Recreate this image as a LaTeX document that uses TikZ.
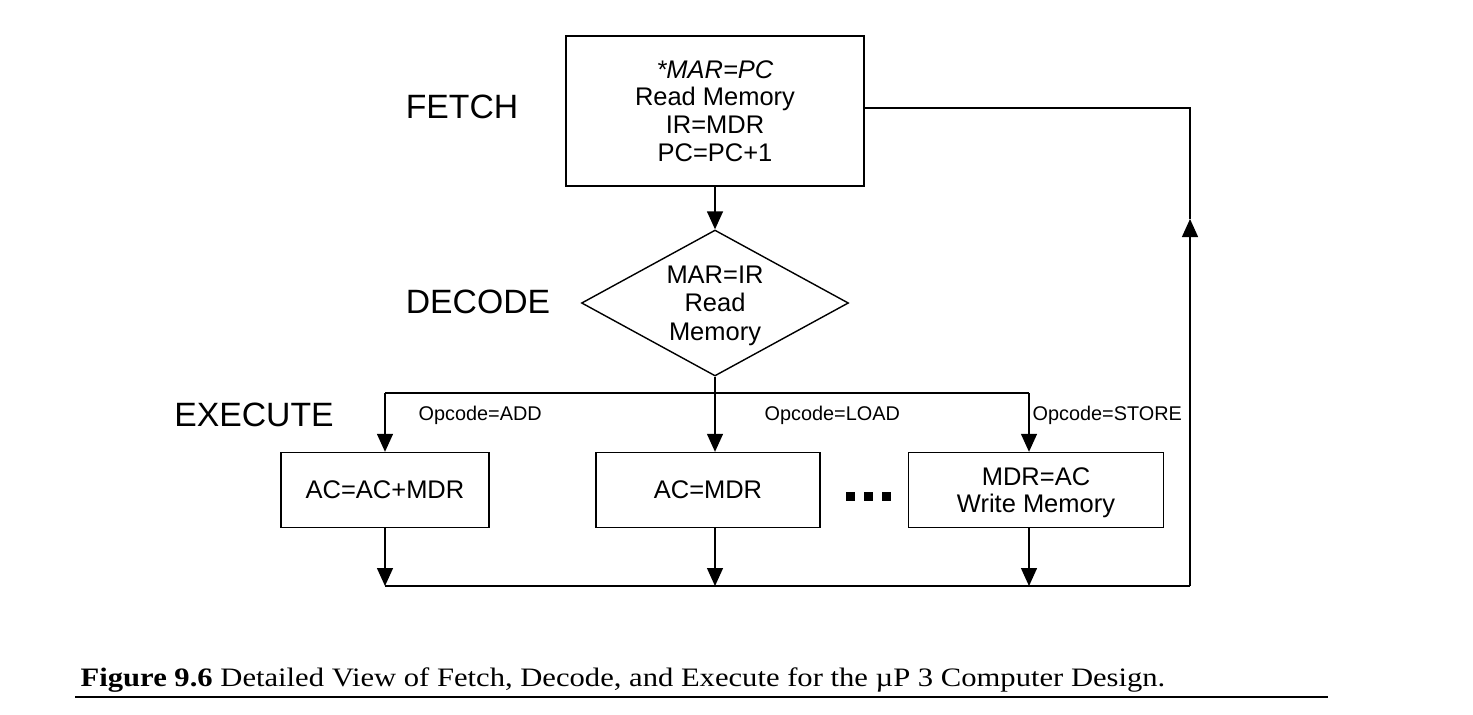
\documentclass[tikz,border=0pt]{standalone}
\usepackage{fontspec}
\setmainfont{Liberation Sans}
\newfontfamily\capfont[FakeStretch=1.15]{Liberation Serif}
\usetikzlibrary{shapes.geometric,arrows.meta}

\begin{document}
\begin{tikzpicture}[x=0.02cm,y=-0.02cm,
    line width=0.8pt,
    box/.style={draw,inner sep=0pt,align=center,font=\fontsize{14.5}{15.8}\selectfont},
    decision/.style={diamond,draw,inner sep=0pt,aspect=1.83,minimum width=5.34cm,minimum height=2.92cm,align=center,text depth=-2.5pt,font=\fontsize{14.5}{16.2}\selectfont},
    stage/.style={inner sep=0pt,font=\fontsize{19.2}{22}\selectfont},
    cond/.style={inner sep=0pt,anchor=west,font=\fontsize{11.3}{13}\selectfont},
    flow/.style={-{Triangle[width=0.32cm,length=0.36cm]}},
    dot/.style={fill,inner sep=0pt,minimum size=0.18cm}]
    \useasboundingbox (0,0) rectangle (1473,714);

    \node[stage] (fetchlbl) at (462,107) {FETCH};
    \node[stage] (decodelbl) at (478,302) {DECODE};
    \node[stage] (executelbl) at (254,415) {EXECUTE};

    \node[box,minimum width=5.96cm,minimum height=3.0cm] (fetch) at (715,111) {\textit{*MAR=PC}\\Read Memory\\IR=MDR\\PC=PC+1};
    \node[decision] (dec) at (715,303) {MAR=IR\\Read\\Memory};

    \node[box,minimum width=4.16cm,minimum height=1.5cm] (add) at (385,490) {AC=AC+MDR};
    \node[box,minimum width=4.48cm,minimum height=1.5cm] (load) at (708,490) {AC=MDR};
    \node[box,minimum width=5.1cm,minimum height=1.5cm,text depth=-4pt] (store) at (1036,490) {MDR=AC\\Write Memory};

    \node[dot] (dot1) at (850,496) {};
    \node[dot] (dot2) at (868,496) {};
    \node[dot] (dot3) at (886,496) {};

    \node[cond] (addlbl) at (418,415) {Opcode=ADD};
    \node[cond] (loadlbl) at (764,415) {Opcode=LOAD};
    \node[cond] (storelbl) at (1032,415) {Opcode=STORE};

    \coordinate (split) at (715,393);
    \coordinate (splitL) at (385,393);
    \coordinate (splitR) at (1029,393);
    \coordinate (joinL) at (385,586);
    \coordinate (joinR) at (1190,586);
    \coordinate (upTip) at (1190,219);
    \coordinate (backTop) at (1190,108);

    \draw[flow] (fetch.south) -- (dec.north);
    \draw (dec.south) -- (split);
    \draw (splitL) -- (splitR);
    \draw[flow] (splitL) -- (add.north);
    \draw[flow] (split) -- (split |- load.north);
    \draw[flow] (splitR) -- (splitR |- store.north);

    \draw[flow] (add.south) -- (joinL);
    \draw[flow] (split |- load.south) -- (split |- joinL);
    \draw[flow] (splitR |- store.south) -- (splitR |- joinL);
    \draw (joinL) -- (joinR);
    \draw[flow] (joinR) -- (upTip);
    \draw (upTip) -- (backTop) -- (fetch.east |- backTop);

    \node[anchor=west,inner sep=0pt] (caption) at (80,680) {\capfont\fontsize{15.15}{18}\selectfont\textbf{Figure 9.6} Detailed View of Fetch, Decode, and Execute for the µP 3 Computer Design.};
    \draw[line width=1.2pt] (75,697) -- (1328,697);
\end{tikzpicture}
\end{document}
